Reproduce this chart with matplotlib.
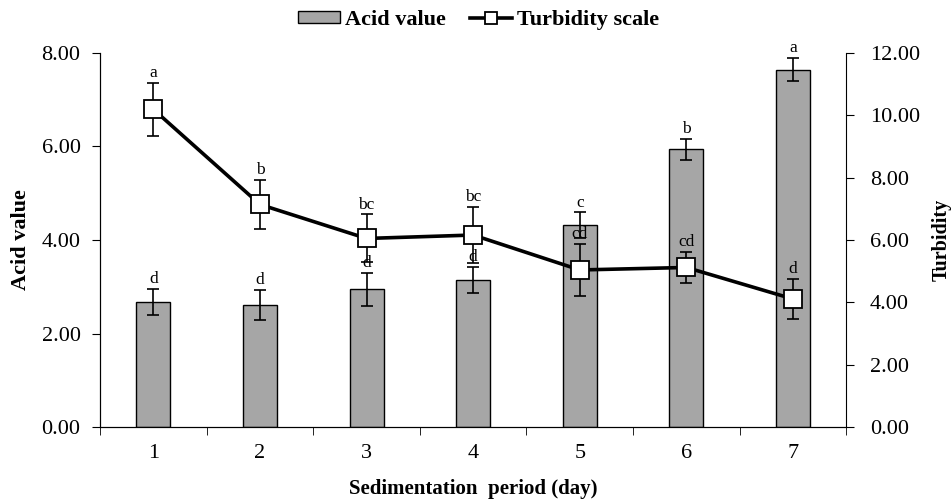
import numpy as np
import matplotlib
matplotlib.use("Agg")
from matplotlib import pyplot as plt

plt.rcParams['font.family'] = ['Liberation Serif', 'DejaVu Serif']

days = [1, 2, 3, 4, 5, 6, 7]
acid = [2.68, 2.61, 2.95, 3.14, 4.32, 5.94, 7.64]
acid_err = [0.28, 0.33, 0.35, 0.28, 0.27, 0.22, 0.25]
acid_letters = ["d", "d", "d", "d", "c", "b", "a"]
turb = [10.19, 7.14, 6.05, 6.16, 5.04, 5.12, 4.11]
turb_err = [0.85, 0.78, 0.77, 0.9, 0.83, 0.5, 0.65]
turb_letters = ["a", "b", "bc", "bc", "cd", "cd", "d"]

fig = plt.figure(figsize=(9.53, 4.99), dpi=100)
ax = fig.add_axes([0.105, 0.144, 0.783, 0.750])
ax2 = ax.twinx()

x = np.array(days)
bars = ax.bar(x, acid, width=0.32, color="#a6a6a6", edgecolor="black", linewidth=1.0,
              label="Acid value", zorder=2)
ax.errorbar(x, acid, yerr=acid_err, fmt="none", ecolor="black", elinewidth=1.2,
            capsize=4, capthick=1.2, zorder=3)
for xi, v, e, t in zip(x, acid, acid_err, acid_letters):
    ax.text(xi, v + e + 0.04, t, ha="center", va="bottom", fontsize=12.5)

line, = ax2.plot(x, turb, color="black", lw=2.6, marker="s", markersize=13,
                 markerfacecolor="white", markeredgecolor="black", markeredgewidth=1.3,
                 label="Turbidity scale", zorder=4)
ax2.errorbar(x, turb, yerr=turb_err, fmt="none", ecolor="black", elinewidth=1.2,
             capsize=4, capthick=1.2, zorder=3)
for xi, v, e, t in zip(x, turb, turb_err, turb_letters):
    ax2.text(xi, v + e + 0.06, t, ha="center", va="bottom", fontsize=12.5)

ax.set_xlim(0.5, 7.5)
ax.set_ylim(0, 8)
ax2.set_ylim(0, 12)
ax.set_yticks(np.arange(0, 8.01, 2))
ax.set_yticklabels([f"{v:.2f}" for v in np.arange(0, 8.01, 2)])
ax2.set_yticks(np.arange(0, 12.01, 2))
ax2.set_yticklabels([f"{v:.2f}" for v in np.arange(0, 12.01, 2)])

ax.set_xticks(x)
ax.set_xticklabels([str(d) for d in days])
ax.set_xticks(np.arange(0.5, 7.6, 1), minor=True)
ax.tick_params(axis="x", which="major", length=0, pad=12, labelsize=16)
ax.tick_params(axis="x", which="minor", length=6, direction="out")
ax.tick_params(axis="y", labelsize=16, length=6, pad=8)
ax2.tick_params(axis="y", labelsize=16, length=6, pad=11)

for a in (ax, ax2):
    a.spines["top"].set_visible(False)
ax.spines["right"].set_visible(False)

ax.set_xlabel("Sedimentation  period (day)", fontsize=15, fontweight="bold")
ax.xaxis.set_label_coords(0.5, -0.139)
ax.set_ylabel("Acid value", fontsize=16, fontweight="bold")
ax.yaxis.set_label_coords(-0.093, 0.5)
ax2.set_ylabel("Turbidity", fontsize=14.5, fontweight="bold")
ax2.yaxis.set_label_coords(1.114, 0.5)

fig.legend([bars, line], ["Acid value", "Turbidity scale"], loc="upper center",
           bbox_to_anchor=(0.502, 1.02), ncol=2, frameon=False,
           prop={"size": 16, "weight": "bold"}, handlelength=1.9, handleheight=0.45,
           columnspacing=1.1, handletextpad=0.2, markerscale=0.65)

fig.savefig("out.png", dpi=100)
